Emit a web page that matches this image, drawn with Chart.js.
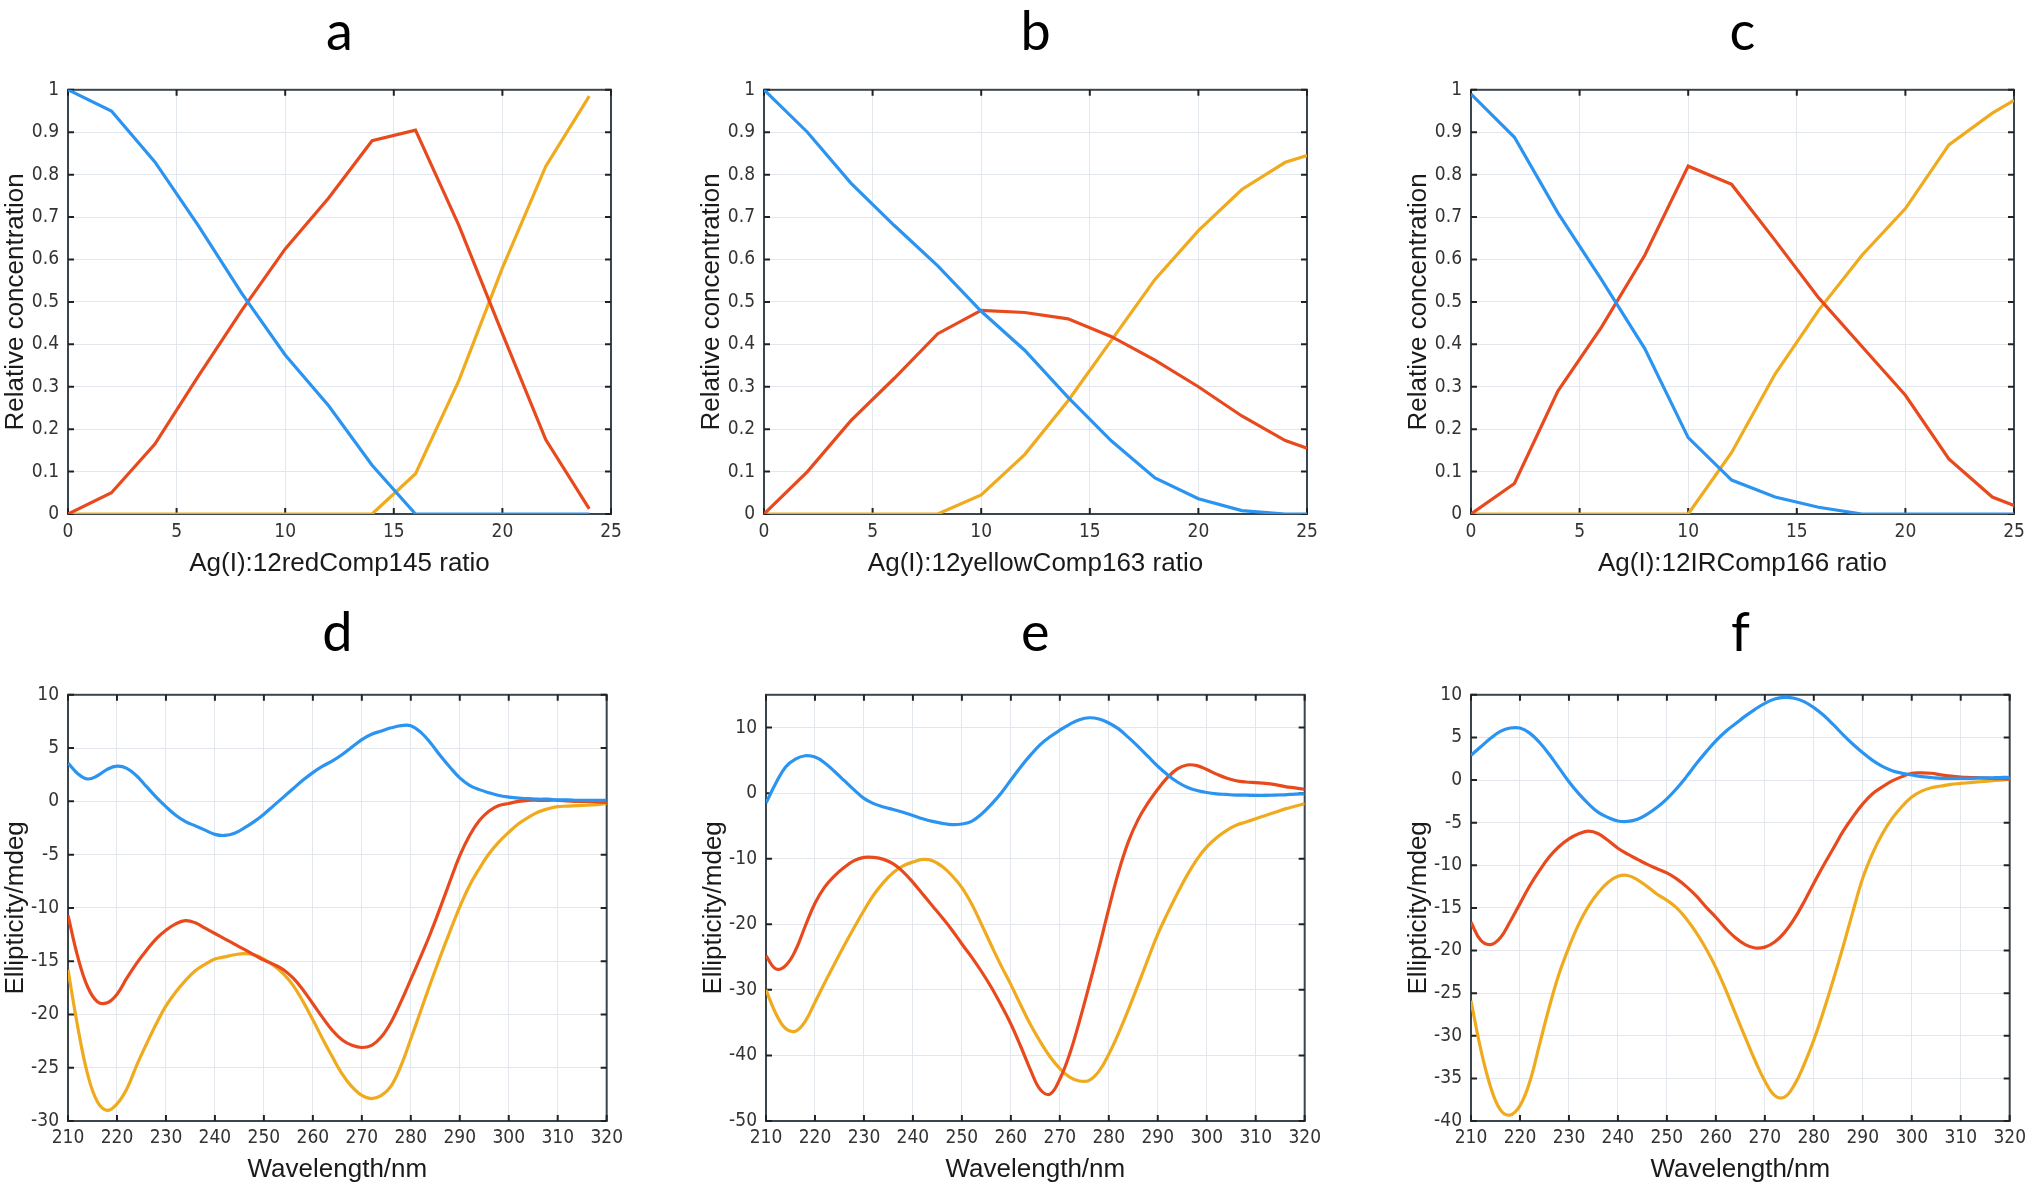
<!DOCTYPE html>
<html>
<head>
<meta charset="utf-8">
<script src="https://cdn.jsdelivr.net/npm/chart.js@4.4.1/dist/chart.umd.min.js"></script>
<style>
  body { margin: 0; background: #fff; width: 2032px; height: 1187px; position: relative; overflow: hidden; }
  canvas { position: absolute; }
</style>
</head>
<body>
<canvas id="chart-a" width="629" height="590" style="left:0px;top:0px"></canvas>
<canvas id="chart-b" width="629" height="590" style="left:696px;top:0px"></canvas>
<canvas id="chart-c" width="629" height="590" style="left:1403px;top:0px"></canvas>
<canvas id="chart-d" width="629" height="597" style="left:0px;top:590px"></canvas>
<canvas id="chart-e" width="629" height="597" style="left:698px;top:590px"></canvas>
<canvas id="chart-f" width="629" height="597" style="left:1403px;top:590px"></canvas>
<script>
// titration panels (a-c)
const ratioA = [0, 2, 4, 6, 8, 10, 12, 14, 16, 18, 20, 22, 24];
const blueA = [1.0, 0.95, 0.83, 0.68, 0.52, 0.375, 0.255, 0.115, 0, 0, 0, 0, 0];
const redA = [0, 0.05, 0.165, 0.325, 0.48, 0.625, 0.745, 0.88, 0.905, 0.68, 0.425, 0.175, 0.012];
const yellowA = [0, 0, 0, 0, 0, 0, 0, 0, 0.095, 0.315, 0.58, 0.82, 0.985];

const ratioB = [0, 2, 4, 6, 8, 10, 12, 14, 16, 18, 20, 22, 24, 25];
const blueB = [1.0, 0.9, 0.78, 0.68, 0.585, 0.478, 0.386, 0.275, 0.172, 0.085, 0.036, 0.008, 0, 0];
const redB = [0, 0.1, 0.22, 0.32, 0.425, 0.48, 0.475, 0.46, 0.418, 0.363, 0.3, 0.231, 0.173, 0.155];
const yellowB = [0, 0, 0, 0, 0, 0.045, 0.14, 0.267, 0.41, 0.553, 0.668, 0.765, 0.829, 0.845];

const ratioC = [0, 2, 4, 6, 8, 10, 12, 14, 16, 18, 20, 22, 24, 25];
const blueC = [0.99, 0.888, 0.71, 0.553, 0.39, 0.18, 0.08, 0.04, 0.016, 0, 0, 0, 0, 0];
const redC = [0, 0.072, 0.29, 0.44, 0.61, 0.82, 0.777, 0.645, 0.51, 0.395, 0.28, 0.13, 0.04, 0.02];
const yellowC = [0, 0, 0, 0, 0, 0, 0.145, 0.33, 0.48, 0.61, 0.72, 0.87, 0.945, 0.975];

// CD spectra (d-f)
const wavelength = [210, 212, 214, 216, 218, 220, 222, 224, 226, 228, 230, 232, 234, 236, 238, 240, 242, 244, 246, 248,
  250, 252, 254, 256, 258, 260, 262, 264, 266, 268, 270, 272, 274, 276, 278, 280, 282, 284, 286, 288,
  290, 292, 294, 296, 298, 300, 302, 304, 306, 308, 310, 312, 314, 316, 318, 320];

const blueD = [3.6, 2.6, 2.1, 2.4, 3.0, 3.3, 3.1, 2.4, 1.4, 0.4, -0.5, -1.3, -1.9, -2.3, -2.7, -3.1, -3.2, -3.0, -2.5, -1.9,
  -1.2, -0.4, 0.4, 1.2, 2.0, 2.7, 3.3, 3.8, 4.4, 5.1, 5.8, 6.3, 6.6, 6.9, 7.1, 7.1, 6.5, 5.5, 4.3, 3.2,
  2.2, 1.5, 1.1, 0.8, 0.55, 0.4, 0.3, 0.25, 0.2, 0.2, 0.15, 0.15, 0.1, 0.1, 0.1, 0.1];
const redD = [-10.7, -14.6, -17.4, -18.8, -18.9, -18.1, -16.6, -15.2, -14.0, -12.9, -12.1, -11.5, -11.2, -11.4, -11.9, -12.4, -12.9, -13.4, -13.9, -14.4,
  -14.9, -15.3, -15.8, -16.6, -17.7, -19.0, -20.3, -21.5, -22.4, -22.9, -23.1, -22.9, -22.1, -20.7, -18.8, -16.7, -14.6, -12.4, -10.0, -7.5,
  -5.1, -3.2, -1.8, -0.9, -0.4, -0.2, 0.0, 0.1, 0.1, 0.1, 0.1, 0.05, 0.0, 0.0, -0.05, -0.1];
const yellowD = [-15.8, -21.2, -25.6, -28.2, -29.0, -28.4, -27.0, -24.8, -22.8, -20.9, -19.2, -17.9, -16.8, -15.9, -15.3, -14.8, -14.6, -14.4, -14.3, -14.4,
  -14.8, -15.4, -16.2, -17.3, -18.8, -20.5, -22.3, -24.0, -25.6, -26.8, -27.6, -27.9, -27.6, -26.7, -24.8, -22.3, -19.7, -17.1, -14.6, -12.2,
  -9.9, -7.9, -6.3, -4.9, -3.8, -2.9, -2.1, -1.5, -1.0, -0.7, -0.5, -0.45, -0.4, -0.35, -0.3, -0.2];

const blueE = [-1.5, 1.5, 4.0, 5.2, 5.7, 5.5, 4.6, 3.3, 1.9, 0.5, -0.8, -1.6, -2.1, -2.5, -2.9, -3.4, -3.9, -4.3, -4.6, -4.8,
  -4.7, -4.3, -3.2, -1.7, 0.0, 2.0, 4.0, 5.8, 7.4, 8.6, 9.6, 10.5, 11.2, 11.5, 11.3, 10.7, 9.8, 8.5, 7.1, 5.6,
  4.1, 2.8, 1.7, 0.9, 0.4, 0.1, -0.1, -0.2, -0.3, -0.3, -0.35, -0.35, -0.3, -0.25, -0.15, -0.1];
const redE = [-24.8, -26.8, -26.3, -24.0, -20.3, -16.8, -14.3, -12.6, -11.3, -10.3, -9.8, -9.8, -10.1, -10.8, -12.0, -13.6, -15.4, -17.2, -19.0, -20.9,
  -23.0, -25.0, -27.2, -29.6, -32.3, -35.2, -38.6, -42.2, -45.2, -45.9, -43.6, -39.8, -34.8, -29.3, -23.6, -17.6, -12.0, -7.4, -4.0, -1.5,
  0.6, 2.4, 3.7, 4.3, 4.2, 3.6, 2.9, 2.3, 1.9, 1.7, 1.6, 1.5, 1.3, 1.0, 0.8, 0.6];
const yellowE = [-30.0, -33.6, -35.9, -36.3, -34.8, -31.9, -28.9, -26.0, -23.2, -20.5, -17.9, -15.5, -13.6, -12.1, -11.1, -10.5, -10.1, -10.3, -11.2, -12.6,
  -14.4, -16.9, -20.0, -23.2, -26.3, -29.2, -32.3, -35.3, -37.9, -40.2, -42.0, -43.3, -43.9, -43.8, -42.4, -39.8, -36.6, -33.0, -29.2, -25.3,
  -21.5, -18.3, -15.3, -12.5, -10.1, -8.2, -6.8, -5.7, -4.9, -4.4, -3.9, -3.4, -2.9, -2.4, -2.0, -1.6];

const blueF = [2.9, 3.9, 4.9, 5.7, 6.1, 6.1, 5.5, 4.4, 3.0, 1.4, -0.2, -1.6, -2.8, -3.8, -4.4, -4.8, -4.85, -4.6, -4.0, -3.2,
  -2.2, -1.0, 0.4, 1.9, 3.3, 4.6, 5.7, 6.6, 7.5, 8.3, 9.0, 9.5, 9.7, 9.6, 9.2, 8.5, 7.6, 6.5, 5.3, 4.2,
  3.2, 2.3, 1.6, 1.1, 0.8, 0.6, 0.4, 0.3, 0.2, 0.2, 0.2, 0.2, 0.25, 0.25, 0.3, 0.3];
const redF = [-16.7, -18.8, -19.3, -18.5, -16.6, -14.5, -12.4, -10.6, -9.0, -7.8, -6.9, -6.3, -6.0, -6.3, -7.1, -8.0, -8.7, -9.3, -9.9, -10.4,
  -10.9, -11.6, -12.5, -13.6, -14.9, -16.1, -17.4, -18.5, -19.3, -19.7, -19.6, -19.0, -17.9, -16.3, -14.3, -12.1, -10.0, -8.0, -6.0, -4.3,
  -2.8, -1.6, -0.8, -0.1, 0.4, 0.8, 0.85, 0.8, 0.6, 0.45, 0.35, 0.3, 0.25, 0.2, 0.15, 0.1];
const yellowF = [-25.9, -31.6, -36.0, -38.7, -39.3, -38.2, -35.4, -31.0, -26.6, -22.7, -19.6, -16.9, -14.8, -13.2, -12.0, -11.3, -11.2, -11.7, -12.5, -13.4,
  -14.1, -15.0, -16.3, -17.9, -19.8, -22.0, -24.6, -27.4, -30.2, -32.9, -35.3, -37.0, -37.2, -35.8, -33.4, -30.5, -27.1, -23.4, -19.5, -15.4,
  -11.5, -8.6, -6.3, -4.5, -3.1, -2.0, -1.3, -0.9, -0.7, -0.5, -0.4, -0.3, -0.2, -0.1, 0.0, 0.1];

// tick labels
const ratioTicks = [0, 5, 10, 15, 20, 25];
const concTicks = [0, 0.1, 0.2, 0.3, 0.4, 0.5, 0.6, 0.7, 0.8, 0.9, 1];
const waveTicks = [210, 220, 230, 240, 250, 260, 270, 280, 290, 300, 310, 320];
const ellipTicksD = [-30, -25, -20, -15, -10, -5, 0, 5, 10];
const ellipTicksE = [-50, -40, -30, -20, -10, 0, 10];
const ellipTicksF = [-40, -35, -30, -25, -20, -15, -10, -5, 0, 5, 10];

const BLUE = '#2a94f0';
const RED = '#e84a1e';
const YELLOW = '#f0aa1e';

const tickFont = { family: "'Liberation Sans Narrow', 'DejaVu Sans Condensed', 'Liberation Sans', Arial, sans-serif", size: 19 };
const yTitleFont = { family: "'Liberation Sans', Arial, sans-serif", size: 26 };
const xTitleFont = { family: "'Liberation Sans', Arial, sans-serif", size: 26 };

// box round the plot plus the little inward tick marks
const frame = {
   id: 'frame',
   beforeDatasetsDraw(chart) {
      const { ctx, chartArea: a, scales: { x, y } } = chart;
      const len = 6;
      ctx.save();
      ctx.strokeStyle = '#3a464e';
      ctx.lineWidth = 2;
      ctx.strokeRect(a.left, a.top, a.right - a.left, a.bottom - a.top);
      ctx.strokeStyle = '#222';
      ctx.beginPath();
      x.ticks.forEach(t => {
         const px = x.getPixelForValue(t.value);
         ctx.moveTo(px, a.bottom); ctx.lineTo(px, a.bottom - len);
         ctx.moveTo(px, a.top); ctx.lineTo(px, a.top + len);
      });
      y.ticks.forEach(t => {
         const py = y.getPixelForValue(t.value);
         ctx.moveTo(a.left, py); ctx.lineTo(a.left + len, py);
         ctx.moveTo(a.right, py); ctx.lineTo(a.right - len, py);
      });
      ctx.stroke();
      ctx.restore();
   }
};

function toPoints(xs, ys) {
   return xs.map((x, i) => ({ x: x, y: ys[i] }));
}

function makePanel(id, p) {
   const top = p.row === 0;
   const lines = [
      { data: toPoints(p.xs, p.blue), borderColor: BLUE },
      { data: toPoints(p.xs, p.red), borderColor: RED },
      { data: toPoints(p.xs, p.yellow), borderColor: YELLOW }
   ].map(ds => Object.assign(ds, {
      borderWidth: 3.2,
      pointRadius: 0,
      tension: p.smooth ? 0.4 : 0
   }));

   return new Chart(document.getElementById(id), {
      type: 'line',
      data: { datasets: lines },
      options: {
         responsive: false,
         animation: false,
         devicePixelRatio: 1,
         layout: { padding: { left: 0, right: 18, top: 0, bottom: 0 } },
         plugins: {
            legend: { display: false },
            tooltip: { enabled: false },
            title: {
               display: true,
               text: p.letter,
               fullSize: false,
               color: '#000',
               font: { family: "Lato, 'Open Sans', sans-serif", size: 54, weight: 'normal', lineHeight: 1.2 },
               padding: top ? { top: 0, bottom: 25 } : { top: 11, bottom: 29 }
            }
         },
         scales: {
            x: {
               type: 'linear',
               min: p.xTicks[0],
               max: p.xTicks[p.xTicks.length - 1],
               afterBuildTicks: s => { s.ticks = p.xTicks.map(v => ({ value: v })); },
               afterFit: s => { s.height = top ? 76 : 66; },
               ticks: { font: tickFont, color: '#333', padding: top ? 7 : 6, maxRotation: 0, callback: v => String(v) },
               grid: { color: '#e1e7ec', lineWidth: 1, drawTicks: false },
               border: { display: false },
               title: { display: true, text: p.xTitle, font: xTitleFont, color: '#1a1a1a', padding: { top: 0, bottom: top ? 11 : 2 } }
            },
            y: {
               type: 'linear',
               min: p.yMin,
               max: p.yMax,
               afterBuildTicks: s => { s.ticks = p.yTicks.map(v => ({ value: v })); },
               afterFit: s => { s.width = 68; },
               ticks: { font: tickFont, color: '#333', padding: 9, callback: v => String(v) },
               grid: { color: '#e1e7ec', lineWidth: 1, drawTicks: false },
               border: { display: false },
               title: { display: true, text: p.yTitle, font: yTitleFont, color: '#1a1a1a', padding: { top: 0, bottom: 0 } }
            }
         }
      },
      plugins: [frame]
   });
}

makePanel('chart-a', { row: 0, letter: 'a', xs: ratioA, blue: blueA, red: redA, yellow: yellowA,
   xTicks: ratioTicks, yTicks: concTicks, yMin: 0, yMax: 1,
   xTitle: 'Ag(I):12redComp145 ratio', yTitle: 'Relative concentration' });
makePanel('chart-b', { row: 0, letter: 'b', xs: ratioB, blue: blueB, red: redB, yellow: yellowB,
   xTicks: ratioTicks, yTicks: concTicks, yMin: 0, yMax: 1,
   xTitle: 'Ag(I):12yellowComp163 ratio', yTitle: 'Relative concentration' });
makePanel('chart-c', { row: 0, letter: 'c', xs: ratioC, blue: blueC, red: redC, yellow: yellowC,
   xTicks: ratioTicks, yTicks: concTicks, yMin: 0, yMax: 1,
   xTitle: 'Ag(I):12IRComp166 ratio', yTitle: 'Relative concentration' });

makePanel('chart-d', { row: 1, letter: 'd', xs: wavelength, blue: blueD, red: redD, yellow: yellowD, smooth: true,
   xTicks: waveTicks, yTicks: ellipTicksD, yMin: -30, yMax: 10,
   xTitle: 'Wavelength/nm', yTitle: 'Ellipticity/mdeg' });
makePanel('chart-e', { row: 1, letter: 'e', xs: wavelength, blue: blueE, red: redE, yellow: yellowE, smooth: true,
   xTicks: waveTicks, yTicks: ellipTicksE, yMin: -50, yMax: 15,
   xTitle: 'Wavelength/nm', yTitle: 'Ellipticity/mdeg' });
makePanel('chart-f', { row: 1, letter: 'f', xs: wavelength, blue: blueF, red: redF, yellow: yellowF, smooth: true,
   xTicks: waveTicks, yTicks: ellipTicksF, yMin: -40, yMax: 10,
   xTitle: 'Wavelength/nm', yTitle: 'Ellipticity/mdeg' });
</script>
</body>
</html>
